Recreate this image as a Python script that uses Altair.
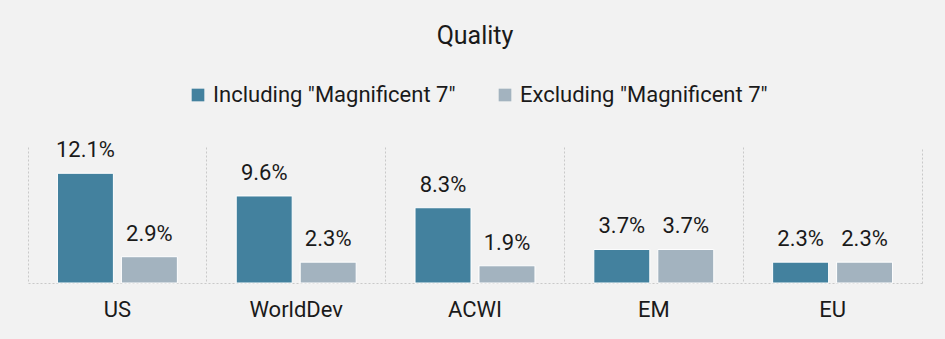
import altair as alt
import pandas as pd

categories = ["US", "WorldDev", "ACWI", "EM", "EU"]
including = [12.1, 9.6, 8.3, 3.7, 2.3]
excluding = [2.9, 2.3, 1.9, 3.7, 2.3]
series_names = ['Including "Magnificent 7"', 'Excluding "Magnificent 7"']
colors = ["#43819e", "#a3b3bf"]

rows = []
for c, a, b in zip(categories, including, excluding):
    rows.append({"cat": c, "series": series_names[0], "value": a})
    rows.append({"cat": c, "series": series_names[1], "value": b})
df = pd.DataFrame(rows)

FONT = "Roboto"
TXT = "#1a1a1a"
GRID = "#c9c9c9"

x = alt.X("cat:N", sort=categories, title=None,
          scale=alt.Scale(paddingInner=0, paddingOuter=0),
          axis=alt.Axis(bandPosition=0, grid=True, gridDash=[2, 2], gridColor=GRID,
                        gridWidth=1, ticks=False, domainColor=GRID, domainDash=[2, 2],
                        labelAngle=0, labelFontSize=22, labelColor=TXT, labelFont=FONT,
                        labelPadding=16, labelBound=False))
xo = alt.XOffset("series:N", sort=series_names,
                 scale=alt.Scale(paddingInner=0.125, paddingOuter=0.46))
y = alt.Y("value:Q", title=None, scale=alt.Scale(domain=[0, 15], nice=False),
          axis=alt.Axis(orient="right", grid=False, labels=False, ticks=False,
                        domain=True, domainColor=GRID, domainDash=[2, 2]))

base = alt.Chart(df)
bars = base.mark_bar(stroke="white", strokeWidth=1).encode(
    x=x, xOffset=xo, y=y,
    color=alt.Color("series:N", sort=series_names,
                    scale=alt.Scale(domain=series_names, range=colors),
                    legend=alt.Legend(title=None, orient="none", direction="horizontal",
                                      legendX=159, legendY=-63,
                                      symbolType="square", symbolSize=160,
                                      symbolStrokeWidth=0, labelFontSize=22,
                                      labelFont=FONT, labelColor=TXT, labelLimit=0,
                                      columnPadding=38, labelOffset=4)),
)
labels = base.transform_calculate(
    label="format(datum.value, '.1f') + '%'"
).mark_text(fontSize=22, font=FONT, color=TXT, baseline="alphabetic", dy=-16).encode(
    x=x, xOffset=xo, y="value:Q", text="label:N")

chart = alt.layer(bars, labels).properties(
    width=894, height=136,
    autosize=alt.AutoSizeParams(type="none"),
    padding={"left": 28, "top": 147, "right": 23, "bottom": 56},
    background="#f2f2f2",
    title=alt.Title("Quality", fontSize=25, font=FONT, fontWeight="normal",
                    color=TXT, anchor="middle", offset=35),
).configure_view(stroke=None)

chart.save("out.html", embed_options={"renderer": "svg", "actions": False})
